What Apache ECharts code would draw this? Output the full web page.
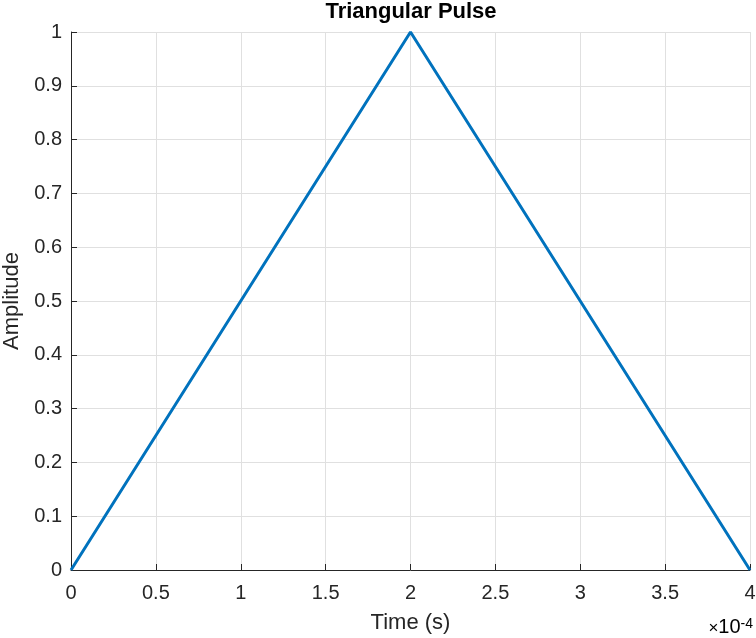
<!DOCTYPE html>
<html>
<head>
<meta charset="utf-8">
<script src="https://cdn.jsdelivr.net/npm/echarts@6/dist/echarts.min.js"></script>
<style>html,body{margin:0;padding:0;background:#fff}#c{width:756px;height:638px}</style>
</head>
<body>
<div id="c"></div>
<script>
// Data (time in units of 1e-4 s)
var timeScaled = [0, 2, 4];
var amplitude = [0, 1, 0];
var xTicks = [0, 0.5, 1, 1.5, 2, 2.5, 3, 3.5, 4];
var yTicks = [0, 0.1, 0.2, 0.3, 0.4, 0.5, 0.6, 0.7, 0.8, 0.9, 1];
var titleText = 'Triangular Pulse';
var xName = 'Time (s)';
var yName = 'Amplitude';

var font = 'Liberation Sans, Arial, Helvetica, sans-serif';
var txt = '#262626';
var chart = echarts.init(document.getElementById('c'), null, {renderer: 'canvas'});
var pts = timeScaled.map(function (t, i) { return [t, amplitude[i]]; });
chart.setOption({
  animation: false,
  title: {
    text: titleText, left: 411, top: 1, textAlign: 'center', padding: 0,
    textStyle: {fontFamily: font, fontSize: 22, fontWeight: 'bold', color: '#000'}
  },
  grid: {left: 71, right: 6, top: 32, bottom: 68, containLabel: false, outerBoundsMode: 'none'},
  xAxis: {
    type: 'value', min: 0, max: 4, interval: 0.5,
    name: xName, nameLocation: 'middle', nameGap: 42,
    nameTextStyle: {fontFamily: font, fontSize: 22, color: txt},
    axisLine: {show: true, lineStyle: {color: '#262626', width: 1}},
    axisTick: {show: true, inside: true, length: 6, lineStyle: {color: '#262626'}},
    axisLabel: {fontFamily: font, fontSize: 20, color: txt, margin: 13,
      formatter: function (v) { return String(v); }},
    splitLine: {show: true, lineStyle: {color: '#e0e0e0', width: 1}}
  },
  yAxis: {
    type: 'value', min: 0, max: 1, interval: 0.1,
    name: yName, nameLocation: 'middle', nameGap: 44, nameRotate: 90,
    nameTextStyle: {fontFamily: font, fontSize: 22, color: txt},
    axisLine: {show: true, lineStyle: {color: '#262626', width: 1}},
    axisTick: {show: true, inside: true, length: 6, lineStyle: {color: '#262626'}},
    axisLabel: {fontFamily: font, fontSize: 20, color: txt, margin: 9,
      formatter: function (v) { return String(Math.round(v * 10) / 10); }},
    splitLine: {show: true, lineStyle: {color: '#e0e0e0', width: 1}}
  },
  graphic: [{
    type: 'text', right: 3, top: 617,
    style: {
      text: '{a|×}{b|10}{c|-4}',
      rich: {
        a: {fontFamily: font, fontSize: 17, color: txt, verticalAlign: 'bottom'},
        b: {fontFamily: font, fontSize: 20, color: txt, verticalAlign: 'bottom'},
        c: {fontFamily: font, fontSize: 14, color: txt, verticalAlign: 'top'}
      }
    }
  }],
  series: [{
    type: 'line', data: pts, showSymbol: false, symbol: 'none',
    lineStyle: {color: '#0072BD', width: 3}, clip: false
  }]
});
</script>
</body>
</html>
